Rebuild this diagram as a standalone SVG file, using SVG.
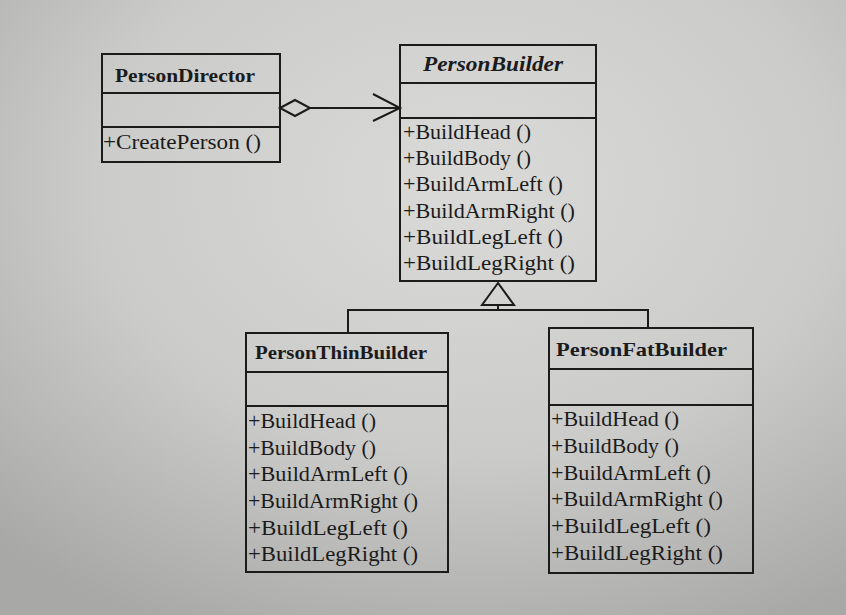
<svg xmlns="http://www.w3.org/2000/svg" width="846" height="615" viewBox="0 0 846 615">
<defs>
<radialGradient id="bg" cx="0.55" cy="0.3" r="0.8">
<stop offset="0" stop-color="#dadad8"/>
<stop offset="0.55" stop-color="#cbcbc9"/>
<stop offset="1" stop-color="#a8a8a6"/>
</radialGradient>
<style>
.box{fill:none;stroke:#1b1b1b;stroke-width:2}
.ln{fill:none;stroke:#1b1b1b;stroke-width:2}
.nm{font-family:"Liberation Serif",serif;font-size:19px;font-weight:bold;fill:#1b1b1b}
.it{font-family:"Liberation Serif",serif;font-size:20px;font-weight:bold;font-style:italic;fill:#1b1b1b}
.mt{font-family:"Liberation Serif",serif;font-size:20px;fill:#1b1b1b}
</style>
</defs>
<rect x="0" y="0" width="846" height="615" fill="url(#bg)"/>

<g id="connectors">
<line class="ln" x1="310" y1="108" x2="400" y2="108"/>
<polygon class="ln" points="280,108 295,100 310,108 295,116"/>
<polyline class="ln" points="373,94 400,108 373,121"/>
<polygon class="ln" points="498,283 482,305 514,305"/>
<line class="ln" x1="498" y1="305" x2="498" y2="310"/>
<polyline class="ln" points="348,333 348,310 648,310 648,328"/>
</g>

<g id="PersonDirector">
<rect class="box" x="102" y="54" width="178" height="108"/>
<line class="ln" x1="102" y1="93" x2="280" y2="93"/>
<line class="ln" x1="102" y1="127" x2="280" y2="127"/>
<text class="nm" x="115" y="82" textLength="140" lengthAdjust="spacingAndGlyphs">PersonDirector</text>
<text class="mt" x="103" y="149" textLength="158" lengthAdjust="spacingAndGlyphs">+CreatePerson ()</text>
</g>

<g id="PersonBuilder">
<rect class="box" x="400" y="45" width="196" height="236"/>
<line class="ln" x1="400" y1="83" x2="596" y2="83"/>
<line class="ln" x1="400" y1="118" x2="596" y2="118"/>
<text class="it" x="423" y="71" textLength="140" lengthAdjust="spacingAndGlyphs">PersonBuilder</text>
<text class="mt" x="403" y="139" textLength="128" lengthAdjust="spacingAndGlyphs">+BuildHead ()</text>
<text class="mt" x="403" y="165" textLength="128" lengthAdjust="spacingAndGlyphs">+BuildBody ()</text>
<text class="mt" x="403" y="191" textLength="160" lengthAdjust="spacingAndGlyphs">+BuildArmLeft ()</text>
<text class="mt" x="403" y="218" textLength="172" lengthAdjust="spacingAndGlyphs">+BuildArmRight ()</text>
<text class="mt" x="403" y="244" textLength="160" lengthAdjust="spacingAndGlyphs">+BuildLegLeft ()</text>
<text class="mt" x="403" y="270" textLength="172" lengthAdjust="spacingAndGlyphs">+BuildLegRight ()</text>
</g>

<g id="PersonThinBuilder">
<rect class="box" x="246" y="333" width="202" height="239"/>
<line class="ln" x1="246" y1="372" x2="448" y2="372"/>
<line class="ln" x1="246" y1="406" x2="448" y2="406"/>
<text class="nm" x="255" y="359" textLength="172" lengthAdjust="spacingAndGlyphs">PersonThinBuilder</text>
<text class="mt" x="248" y="428" textLength="128" lengthAdjust="spacingAndGlyphs">+BuildHead ()</text>
<text class="mt" x="248" y="455" textLength="128" lengthAdjust="spacingAndGlyphs">+BuildBody ()</text>
<text class="mt" x="248" y="481" textLength="160" lengthAdjust="spacingAndGlyphs">+BuildArmLeft ()</text>
<text class="mt" x="248" y="508" textLength="170" lengthAdjust="spacingAndGlyphs">+BuildArmRight ()</text>
<text class="mt" x="248" y="535" textLength="160" lengthAdjust="spacingAndGlyphs">+BuildLegLeft ()</text>
<text class="mt" x="248" y="561" textLength="170" lengthAdjust="spacingAndGlyphs">+BuildLegRight ()</text>
</g>

<g id="PersonFatBuilder">
<rect class="box" x="549" y="328" width="204" height="245"/>
<line class="ln" x1="549" y1="369" x2="753" y2="369"/>
<line class="ln" x1="549" y1="405" x2="753" y2="405"/>
<text class="nm" x="556" y="356" textLength="171" lengthAdjust="spacingAndGlyphs">PersonFatBuilder</text>
<text class="mt" x="551" y="426" textLength="128" lengthAdjust="spacingAndGlyphs">+BuildHead ()</text>
<text class="mt" x="551" y="453" textLength="128" lengthAdjust="spacingAndGlyphs">+BuildBody ()</text>
<text class="mt" x="551" y="480" textLength="160" lengthAdjust="spacingAndGlyphs">+BuildArmLeft ()</text>
<text class="mt" x="551" y="506" textLength="172" lengthAdjust="spacingAndGlyphs">+BuildArmRight ()</text>
<text class="mt" x="551" y="533" textLength="160" lengthAdjust="spacingAndGlyphs">+BuildLegLeft ()</text>
<text class="mt" x="551" y="560" textLength="172" lengthAdjust="spacingAndGlyphs">+BuildLegRight ()</text>
</g>
</svg>
